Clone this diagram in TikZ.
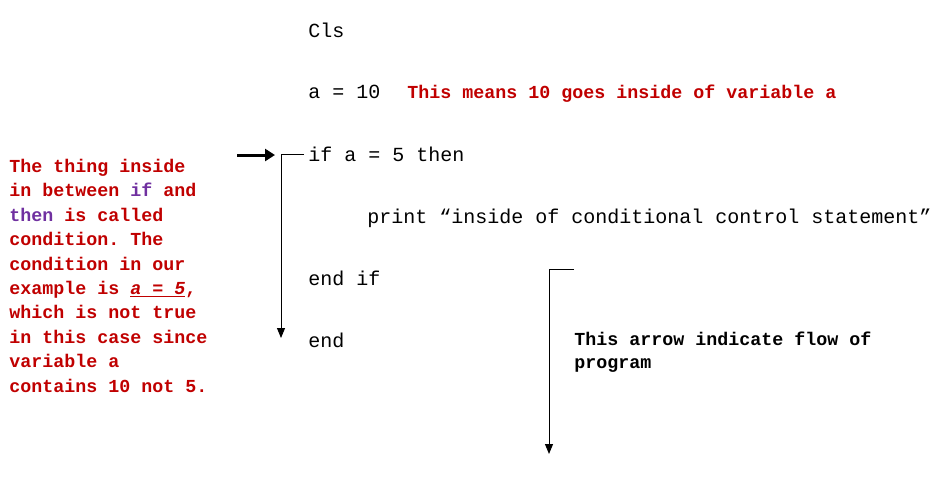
\documentclass[tikz,border=0pt]{standalone}
\usepackage{fontspec}
\setmonofont{Liberation Mono}
\usepackage{xcolor}
\usetikzlibrary{arrows.meta}
\definecolor{notered}{RGB}{192,0,0}
\definecolor{kwpurple}{RGB}{112,48,160}
\tikzset{
  code/.style={anchor=base west, inner sep=0pt, font=\ttfamily\fontsize{15}{18}\selectfont},
  note/.style={inner sep=0pt, font=\ttfamily\bfseries\fontsize{13.75}{18.3}\selectfont, text=notered},
  flow/.style={line width=0.75pt, -{Triangle[length=7.5pt,width=6pt]}}
}
\begin{document}
\begin{tikzpicture}[x=0.75pt,y=-0.75pt]
    \useasboundingbox (0,0) rectangle (949,490);
    % the program
    \node[code] (cls) at (308,37) {Cls};
    \node[code] (assign) at (308,98) {a = 10};
    \node[code] (ifline) at (308,161) {if a = 5 then};
    \node[code] (printline) at (367,223) {print “inside of conditional control statement”};
    \node[code] (endif) at (308,285) {end if};
    \node[code] (endline) at (308,347) {end};
    % the notes
    \node[note, anchor=base west] (assignnote) at (407,98) {This means 10 goes inside of variable a};
    \node[note, anchor=north west, align=left] (condnote) at (9,159)
      {The thing inside\\in between \textcolor{kwpurple}{if} and\\\textcolor{kwpurple}{then} is called\\condition. The\\condition in our\\example is \underline{\textit{a = 5}},\\which is not true\\in this case since\\variable a\\contains 10 not 5.};
    \node[note, anchor=north west, align=left, text=black,
      font=\ttfamily\bfseries\fontsize{13.75}{17.3}\selectfont] (flownote) at (574,332)
      {This arrow indicate flow of\\program};
    % arrows
    \coordinate (pointstart) at (237,155);
    \coordinate (pointtip) at (275,155);
    \draw[line width=2.25pt, -{Triangle[length=7.5pt,width=9pt]}] (pointstart) -- (pointtip);
    \coordinate (brtop) at (304,154);
    \coordinate (brcorner) at (281,154);
    \coordinate (brend) at (281,338);
    \draw[flow] (brtop) -- (brcorner) -- (brend);
    \coordinate (flowtop) at (574,269);
    \coordinate (flowcorner) at (549,269);
    \coordinate (flowend) at (549,454);
    \draw[flow] (flowtop) -- (flowcorner) -- (flowend);
\end{tikzpicture}
\end{document}
